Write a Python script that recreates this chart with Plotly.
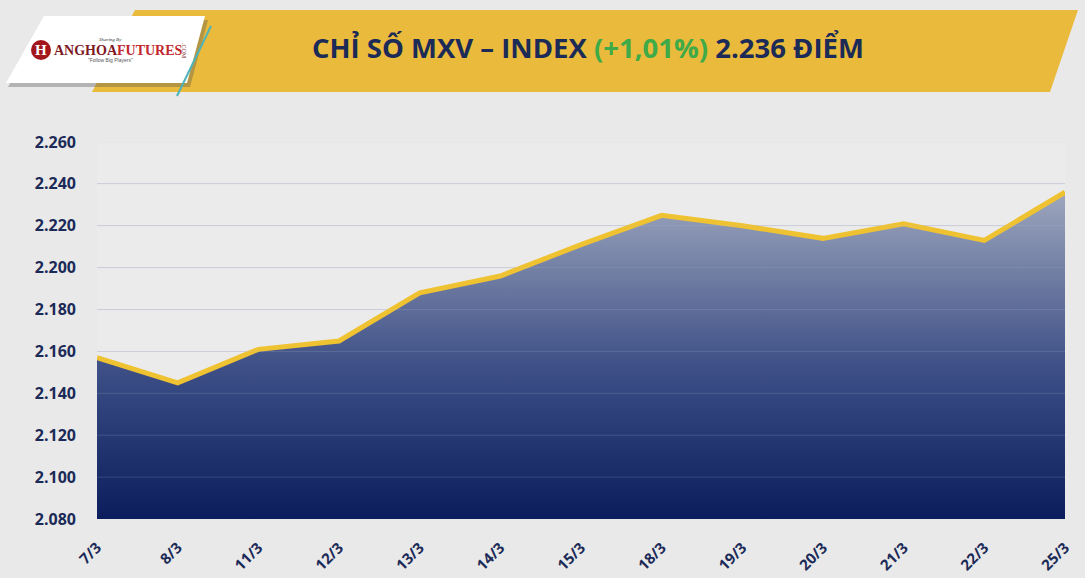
import plotly.graph_objects as go

# data
dates = ["7/3", "8/3", "11/3", "12/3", "13/3", "14/3", "15/3",
         "18/3", "19/3", "20/3", "21/3", "22/3", "25/3"]
mxv_index = [2157, 2145, 2161, 2165, 2188, 2196, 2211,
             2225, 2220, 2214, 2221, 2213, 2236]
y_ticks = [2080, 2100, 2120, 2140, 2160, 2180, 2200, 2220, 2240, 2260]

W, H = 1085, 578
L, R, T, B = 97, 20, 142, 59
navy = "#1b2a57"


# pixel -> paper coords (for the decoration around the chart)
def px(x):
    return (x - L) / (W - L - R)


def py(y):
    return 1 - (y - T) / (H - T - B)


def poly(pts):
    return "M " + " L ".join(f"{px(x)},{py(y)}" for x, y in pts) + " Z"


fig = go.Figure()

fig.add_trace(go.Scatter(
    x=dates, y=mxv_index,
    mode="lines",
    line=dict(color="#efc232", width=5),
    fill="tozeroy",
    fillgradient=dict(type="vertical",
                      colorscale=[[0, "#0b1d5c"], [0.45, "#3d4f86"], [1, "#a2abc0"]],
                      start=2080, stop=2240),
    hoverinfo="x+y",
))

shapes = [
    # yellow title banner
    dict(type="path", xref="paper", yref="paper", layer="below",
         path=poly([(135, 10), (1078, 10), (1050, 92), (92, 92)]),
         fillcolor="#e9ba3c", line=dict(width=0)),
    # logo card shadow
    dict(type="path", xref="paper", yref="paper", layer="below",
         path=poly([(46, 20), (208, 20), (190, 87), (8, 87)]),
         fillcolor="rgba(80,80,80,0.35)", line=dict(width=0)),
    # logo card
    dict(type="path", xref="paper", yref="paper",
         path=poly([(44, 16), (205, 16), (187, 83), (6, 83)]),
         fillcolor="white", line=dict(width=0)),
    # teal accent line
    dict(type="line", xref="paper", yref="paper",
         x0=px(211), y0=py(26), x1=px(177), y1=py(96),
         line=dict(color="#4fb3b8", width=2)),
    # logo mark
    dict(type="circle", xref="paper", yref="paper",
         x0=px(31), y0=py(40), x1=px(51), y1=py(60),
         fillcolor="#a3161c", line=dict(width=0)),
]
# faint grid lines showing through the filled area
for v in y_ticks[1:]:
    shapes.append(dict(type="line", xref="paper", yref="y", layer="above",
                       x0=0, x1=1, y0=v, y1=v,
                       line=dict(color="rgba(190,198,220,0.18)", width=1)))

annotations = [
    dict(text="CHỈ SỐ MXV – INDEX <span style='color:#3eaa48'>(+1,01%)</span> 2.236 ĐIỂM",
         xref="paper", yref="paper", x=px(588), y=py(48),
         xanchor="center", yanchor="middle", showarrow=False,
         font=dict(family="Open Sans", size=27.5, color=navy, weight="bold")),
    dict(text="H", xref="paper", yref="paper", x=px(41), y=py(50),
         xanchor="center", yanchor="middle", showarrow=False,
         font=dict(family="Liberation Serif", size=15, color="white", weight="bold")),
    dict(text="<span style='color:#7d1a1e'>ANGHOA</span><span style='color:#c1272d'>FUTURES</span>",
         xref="paper", yref="paper", x=px(52), y=py(50),
         xanchor="left", yanchor="middle", showarrow=False,
         font=dict(family="Liberation Serif", size=14, weight="bold")),
    dict(text="<i>Sharing By</i>", xref="paper", yref="paper", x=px(110), y=py(39),
         xanchor="center", yanchor="middle", showarrow=False,
         font=dict(family="Liberation Serif", size=5, color="#333")),
    dict(text="\"Follow Big Players\"", xref="paper", yref="paper", x=px(110), y=py(60),
         xanchor="center", yanchor="middle", showarrow=False,
         font=dict(family="Liberation Sans", size=5, color="#555")),
    dict(text=".COM", xref="paper", yref="paper", x=px(184), y=py(51),
         xanchor="center", yanchor="middle", showarrow=False, textangle=90,
         font=dict(family="Liberation Serif", size=6, color="#7d1a1e")),
]

fig.update_layout(
    width=W, height=H,
    margin=dict(l=L, r=R, t=T, b=B),
    paper_bgcolor="#e9e9e9",
    plot_bgcolor="#ebebeb",
    separators=",.",
    showlegend=False,
    shapes=shapes,
    annotations=annotations,
    font=dict(family="Open Sans", color=navy),
)

fig.update_xaxes(
    type="category", range=[0, len(dates) - 1],
    showgrid=False, zeroline=False, showline=False,
    tickangle=-45, ticks="", ticklabelstandoff=16, automargin=False,
    tickfont=dict(family="Open Sans", size=15, color=navy, weight="bold"),
)
fig.update_yaxes(
    range=[2080, 2260], tickvals=y_ticks, tickformat=",",
    showgrid=True, gridcolor="#cfd0da", gridwidth=1,
    zeroline=False, showline=False,
    ticklabelstandoff=20, automargin=False,
    tickfont=dict(family="Open Sans", size=16, color=navy, weight="bold"),
)

# page has a default 8px body margin; drop it so the figure fills the window
fig.write_html("out.html",
               config={"displayModeBar": False},
               post_script="document.body.style.margin='0';"
                           "document.body.style.background='#e9e9e9';")
